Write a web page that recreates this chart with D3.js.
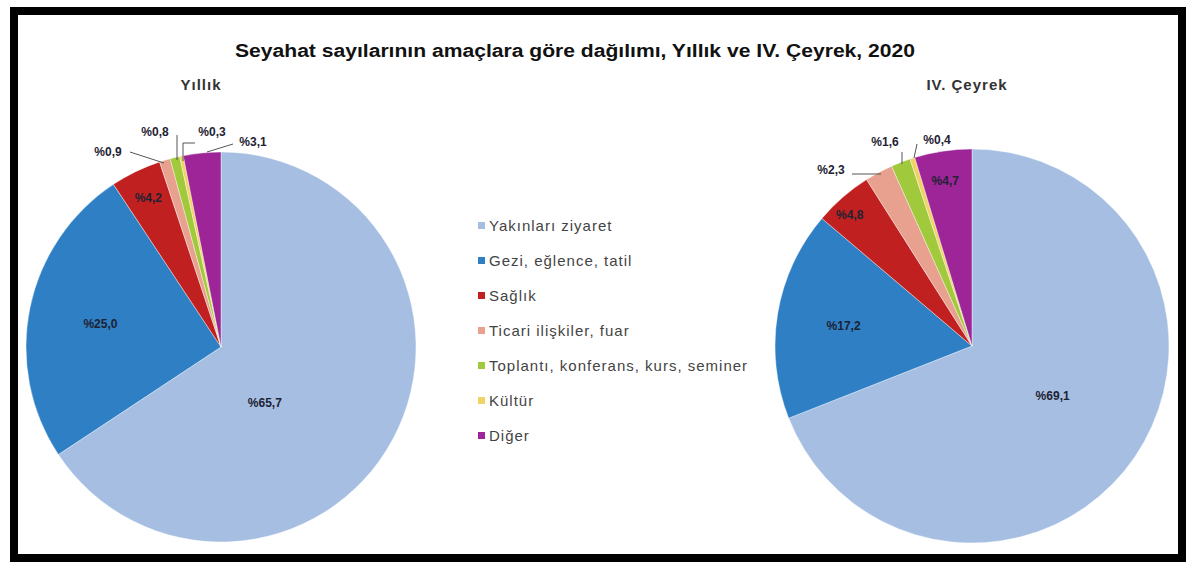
<!DOCTYPE html>
<html><head><meta charset="utf-8">
<script src="https://cdn.jsdelivr.net/npm/d3@7"></script>
<style>body{margin:0;background:#fff;}svg{display:block;font-family:"Liberation Sans",Arial,sans-serif;}</style>
</head><body>
<svg id="c" width="1200" height="576"></svg>
<script>
const categories = ["Yakınları ziyaret","Gezi, eğlence, tatil","Sağlık","Ticari ilişkiler, fuar","Toplantı, konferans, kurs, seminer","Kültür","Diğer"];
const yillikValues = [65.7, 25.0, 4.2, 0.9, 0.8, 0.3, 3.1];
const ceyrekValues = [69.1, 17.2, 4.8, 2.3, 1.6, 0.4, 4.7];
const colors = ["#a5bee2","#2e7fc4","#c0201f","#e8a08f","#a0c93c","#f2d264","#9d2598"];
const title = "Seyahat sayılarının amaçlara göre dağılımı, Yıllık ve IV. Çeyrek, 2020";
const pieTitles = ["Yıllık","IV. Çeyrek"];

// label layout: inside labels by polar (deg, radius fraction); outside labels with leader lines
const layouts = [
  {cx:221, cy:347, r:195, titleX:201, titleY:90,
   labels:[{a:142,f:0.365},{a:281,f:0.63},{a:334,f:0.85},
           {out:[-113,-195], line:[[-91,-195],[-57,-184]]},
           {out:[-66,-215], line:[[-44,-212],[-44,-187]]},
           {out:[-9,-215], line:[[-38,-186],[-38,-204],[-26,-204]]},
           {out:[32,-205], line:[[12,-203],[-14,-195]]}]},
  {cx:972, cy:346, r:197, titleX:967, titleY:90,
   labels:[{a:121.5,f:0.48},{a:279,f:0.66},{a:317,f:0.91},
           {out:[-141,-176], line:[[-120,-172],[-91,-172]]},
           {out:[-87,-204], line:[[-70,-194],[-70,-182]]},
           {out:[-35,-206], line:[[-55,-202],[-58,-188]]},
           {a:350.8,f:0.85}]}
];

const svg = d3.select("#c");
svg.append("rect").attr("x",14).attr("y",11).attr("width",1168).attr("height",547)
  .attr("fill","#fff").attr("stroke","#000").attr("stroke-width",8);

svg.append("text").attr("x",575).attr("y",57).attr("text-anchor","middle")
  .attr("font-size",18).attr("font-weight","bold").attr("fill","#111")
  .attr("textLength",680).attr("lengthAdjust","spacingAndGlyphs").text(title);

const pie = d3.pie().sort(null).value(d=>d);
const fmt = v => "%" + d3.format(".1f")(v).replace(".", ",");

[yillikValues, ceyrekValues].forEach((vals, pi) => {
  const L = layouts[pi];
  const g = svg.append("g").attr("transform",`translate(${L.cx},${L.cy})`);
  const arc = d3.arc().innerRadius(0).outerRadius(L.r);
  const arcs = pie(vals);
  g.selectAll("path").data(arcs).join("path")
    .attr("d", arc).attr("fill",(d,i)=>colors[i]).attr("stroke","#fff").attr("stroke-width",0.4);
  svg.append("text").attr("x",L.titleX).attr("y",L.titleY).attr("text-anchor","middle")
    .attr("font-size",15).attr("letter-spacing",1).attr("font-weight","bold").attr("fill","#333").text(pieTitles[pi]);
  arcs.forEach((d,i) => {
    const lb = L.labels[i];
    let x, y;
    if (lb.out) {
      [x,y] = lb.out;
      g.append("path").attr("d", d3.line()(lb.line)).attr("fill","none")
        .attr("stroke","#555").attr("stroke-width",1);
    } else {
      const a = lb.a*Math.PI/180;
      x = Math.sin(a)*L.r*lb.f; y = -Math.cos(a)*L.r*lb.f;
    }
    g.append("text").attr("x",x).attr("y",y).attr("dy","0.35em").attr("text-anchor","middle")
      .attr("font-size",12).attr("font-weight","bold").attr("fill","#1e2233").text(fmt(vals[i]));
  });
});

const leg = svg.append("g").attr("transform","translate(478,226)");
const ly = d3.scalePoint().domain(categories).range([0,210]);
categories.forEach((c,i)=>{
  leg.append("rect").attr("x",0).attr("y",ly(c)-4).attr("width",7).attr("height",7).attr("fill",colors[i]);
  leg.append("text").attr("x",11).attr("y",ly(c)).attr("dy","0.35em").attr("font-size",15)
    .attr("letter-spacing",1).attr("fill","#444").text(c);
});
</script>
</body></html>
